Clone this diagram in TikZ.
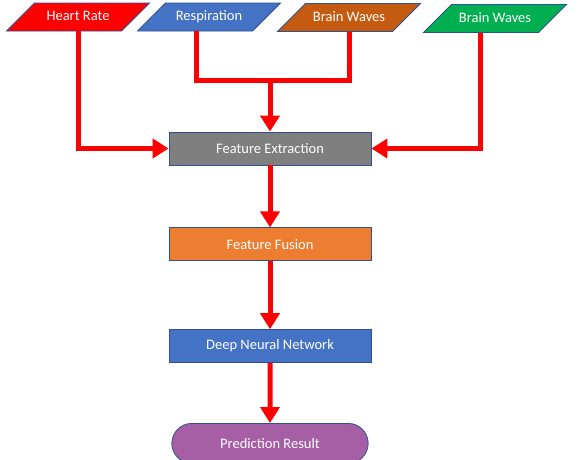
\documentclass[tikz,border=0pt]{standalone}
\usepackage{fontspec}
\setmainfont{Carlito}
\usepackage{tikz}
\usetikzlibrary{arrows.meta, positioning, shapes.geometric, shapes.misc}
\definecolor{hrred}{RGB}{255,0,0}
\definecolor{respblue}{RGB}{68,114,196}
\definecolor{waveorange}{RGB}{197,90,17}
\definecolor{wavegreen}{RGB}{0,176,80}
\definecolor{featgray}{RGB}{127,127,127}
\definecolor{fuseorange}{RGB}{237,125,49}
\definecolor{resultpurple}{RGB}{166,94,164}
\definecolor{edgeblue}{RGB}{47,82,143}

\begin{document}
\begin{tikzpicture}[
        x=1pt, y=-1pt,
        font=\fontsize{14.5}{17}\selectfont,
        signal/.style={trapezium, trapezium left angle=45, trapezium right angle=135, trapezium stretches body, draw=edgeblue, line width=0.8pt, text=white, text height=10pt, text depth=3pt, inner xsep=0pt, inner ysep=7.5pt, minimum width=143pt},
        stage/.style={rectangle, draw=edgeblue, line width=0.8pt, text=white, minimum width=202pt, minimum height=33pt},
        result/.style={rounded rectangle, draw=edgeblue, line width=0.8pt, text=white, minimum width=203pt, minimum height=40pt},
        arrow/.style={draw=hrred, line width=5pt, -{Triangle[width=19pt, length=16pt]}},
        link/.style={draw=hrred, line width=5pt}
    ]
    \useasboundingbox (0,0) rectangle (578,459);

    % input signals
    \node[signal, fill=hrred] (hr) at (78,17) {Heart Rate};
    \node[signal, fill=respblue] (resp) at (209,17) {Respiration};
    \node[signal, fill=waveorange] (bwa) at (349,17.5) {Brain Waves};
    \node[signal, fill=wavegreen] (bwb) at (495,18.5) {Brain Waves};

    % processing chain
    \node[stage, fill=featgray] (extract) at (270,148.5) {Feature Extraction};
    \node[stage, fill=fuseorange, below=62pt of extract] (fusion) {Feature Fusion};
    \node[stage, fill=respblue, below=68pt of fusion] (dnn) {Deep Neural Network};
    \node[result, fill=resultpurple, below=60pt of dnn] (pred) {Prediction Result};

    % joints
    \coordinate (merge) at (270,80);

    % connections
    \draw[arrow] (hr.south) |- (extract.west);
    \draw[link] ([xshift=-13pt]resp.south) |- (merge);
    \draw[link] (bwa.south) |- (merge);
    \draw[arrow] (merge) -- (extract.north);
    \draw[arrow] ([xshift=-15pt]bwb.south) |- (extract.east);
    \draw[arrow] (extract) -- (fusion);
    \draw[arrow] (fusion) -- (dnn);
    \draw[arrow] (dnn) -- (pred);

\end{tikzpicture}
\end{document}
